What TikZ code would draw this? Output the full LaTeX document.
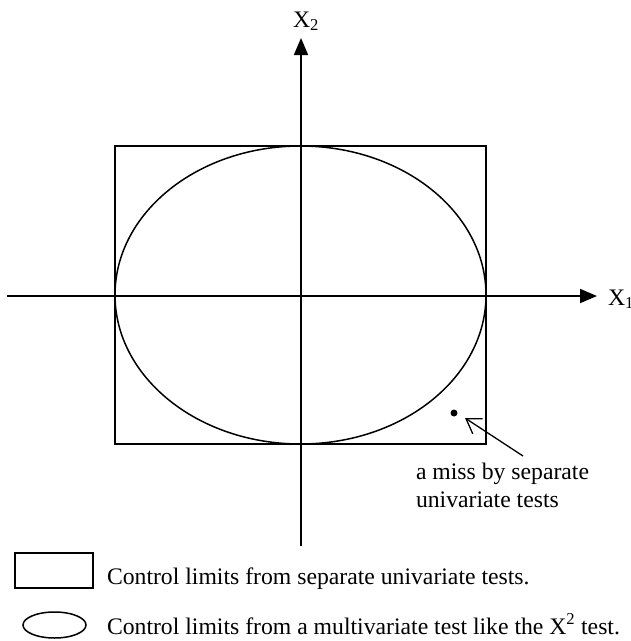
\documentclass[tikz,border=0pt]{standalone}
\usepackage{fontspec}
\setmainfont{Liberation Serif}
\usetikzlibrary{arrows.meta,shapes.geometric}
\tikzset{
  lbl/.style={inner sep=0pt, outer sep=0pt, font=\fontsize{23.7}{28}\selectfont},
  limbox/.style={draw, rectangle, line width=1.5pt, inner sep=0pt, outer sep=0pt},
  limell/.style={draw, ellipse, line width=1.5pt, inner sep=0pt, outer sep=0pt},
  axis/.style={line width=1.8pt, -{Triangle[length=17pt,width=14pt]}},
  pointer/.style={line width=1.3pt, -{Straight Barb[length=14pt,width=18pt,line width=1.3pt]}}
}
\begin{document}
\begin{tikzpicture}[x=1pt,y=-1pt]
\useasboundingbox (0,0) rectangle (631,641);
% limits
\node[limbox, minimum width=371pt, minimum height=298pt] (box) at (300.5,295) {};
\node[limell, minimum width=371pt, minimum height=298pt] (ell) at (300.5,295) {};
% axes
\coordinate (xs) at (7,296);
\coordinate (xe) at (597,296);
\coordinate (ys) at (301,546);
\coordinate (ye) at (301,38);
\draw[axis] (xs) -- (xe);
\draw[axis] (ys) -- (ye);
\node[lbl, anchor=base west] (x1) at (608,305) {X\textsubscript{1}};
\node[lbl, anchor=base west] (x2) at (293,27) {X\textsubscript{2}};
% miss point
\node[circle, fill, inner sep=0pt, minimum size=7pt] (dot) at (454,413) {};
\coordinate (tail) at (523,456);
\coordinate (tip) at (465,418);
\draw[pointer] (tail) -- (tip);
\node[lbl, anchor=base west] (miss1) at (416,479) {a miss by separate};
\node[lbl, anchor=base west] (miss2) at (416,507) {univariate tests};
% legend
\node[limbox, minimum width=78pt, minimum height=35pt] (lbox) at (54,570.5) {};
\node[limell, minimum width=63pt, minimum height=26pt] (lell) at (54.5,625) {};
\node[lbl, anchor=base west] (t1) at (107,584) {Control limits from separate univariate tests.};
\node[lbl, anchor=base west] (t2) at (107,634) {Control limits from a multivariate test like the X\textsuperscript{2} test.};
\end{tikzpicture}
\end{document}
